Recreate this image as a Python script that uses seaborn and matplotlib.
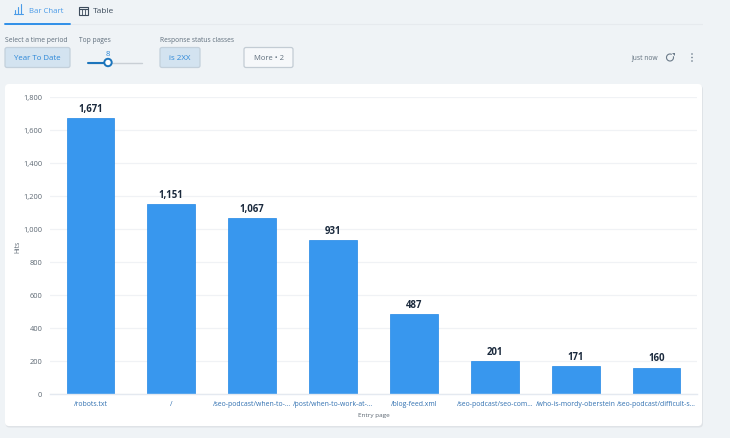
import matplotlib
matplotlib.use("Agg")
import matplotlib.pyplot as plt
from matplotlib.patches import FancyBboxPatch, Rectangle, Circle, Polygon, Arc
from matplotlib.lines import Line2D
from matplotlib.ticker import FuncFormatter, MultipleLocator
import pandas as pd
import seaborn as sns

pages = ["/robots.txt", "/", "/seo-podcast/when-to-...", "/post/when-to-work-at-...",
         "/blog-feed.xml", "/seo-podcast/seo-com...", "/who-is-mordy-oberstein",
         "/seo-podcast/difficult-s..."]
hits = [1671, 1151, 1067, 931, 487, 201, 171, 160]

W, H = 730, 439
sns.set_theme(style="white")
plt.rcParams["font.family"] = ["Open Sans", "DejaVu Sans"]
BG = "#eff3f6"
fig = plt.figure(figsize=(W / 100, H / 100), dpi=100, facecolor=BG)

def X(x): return x / W
def Y(y): return 1 - y / H

def label(x, y, s, size=4.8, color="#5f6e7c", ha="left", weight="normal"):
    fig.text(X(x), Y(y), s, fontsize=size, color=color, ha=ha, va="center", weight=weight)

def box(x0, y0, x1, y1, fc, ec, r=2, lw=0.9, z=1, **kw):
    fig.add_artist(FancyBboxPatch((x0, H - y1), x1 - x0, y1 - y0,
                                  boxstyle=f"round,pad=0,rounding_size={r}",
                                  transform=None, fc=fc, ec=ec, lw=lw, zorder=z, **kw))

def line(xs, ys, color, lw=1.0, z=3):
    fig.add_artist(Line2D([X(v) for v in xs], [Y(v) for v in ys], color=color, lw=lw, zorder=z,
                          solid_capstyle="round"))

# top tabs
line([5, 702], [25, 25], "#e6eaee", 0.8)
line([5, 70], [24.5, 24.5], "#2f8fe8", 1.4, z=4)
label(29, 11.5, "Bar Chart", 5.6, "#4a9be8")
label(93, 11.5, "Table", 6.0, "#3d4c5c")
for x0, h in [(15, 4), (18, 7), (21, 10)]:
    line([x0, x0], [15, 15 - h], "#4a9be8", 0.8)
line([13.5, 23], [15, 15], "#4a9be8", 0.8)
fig.add_artist(Rectangle((79, H - 16), 9, 8, transform=None, fc="none", ec="#3d4c5c", lw=0.8))
line([79, 88], [10, 10], "#3d4c5c", 0.8)
line([82, 82], [10, 16], "#3d4c5c", 0.6)
line([85, 85], [10, 16], "#3d4c5c", 0.6)

# filter row
label(5, 41, "Select a time period", 4.9)
label(79, 41, "Top pages", 4.8)
label(160, 41, "Response status classes", 4.8)
box(5, 48.5, 70, 68.5, "#d3e3f0", "#c3d0db")
label(37.5, 59, "Year To Date", 5.7, "#2b87d8", ha="center")
line([88, 142], [63.5, 63.5], "#c9cfd5", 1.0)
line([88, 108], [63.5, 63.5], "#1c75bc", 1.5, z=4)
fig.add_artist(Circle((108, H - 63.5), 3.7, transform=None, fc="white", ec="#1c75bc", lw=1.4, zorder=5))
label(107.5, 54, "8", 5.6, "#2b87d8", ha="center")
box(160, 48.5, 200, 68.5, "#d3e3f0", "#c3d0db")
label(180, 59, "is 2XX", 5.7, "#2b87d8", ha="center")
box(244, 48.5, 293, 68.5, "#f6f8fa", "#c3ccd4")
label(268.5, 59, "More • 2", 5.5, "#5f6e7c", ha="center")
label(658, 59, "just now", 4.9, "#5f6e7c", ha="right")
fig.add_artist(Arc((670, H - 58.5), 7, 7, theta1=60, theta2=380, transform=None, ec="#6b7a89", lw=0.8, zorder=3))
fig.add_artist(Polygon([(671.5, H - 54), (674.5, H - 54), (674.5, H - 57)], closed=True,
                       transform=None, fc="#6b7a89", ec="none", zorder=3))
for y in (55, 58.5, 62):
    fig.add_artist(Circle((692, H - y), 0.8, transform=None, fc="#6b7a89", ec="none", zorder=3))

# card with faint shadow
box(5.5, 86.5, 703, 428.5, "#dfe3e7", "none", r=4, lw=0, z=1)
box(5, 85, 702, 427, "white", "none", r=4, lw=0, z=1)

ax = fig.add_axes([X(50), Y(394.9), (697 - 50) / W, 297 / H], facecolor="none", zorder=2)
df = pd.DataFrame({"page": pages, "hits": hits})
sns.barplot(data=df, x="page", y="hits", ax=ax, color="#3897ee", saturation=1, width=0.59,
            edgecolor="#2187e6", linewidth=0.5)
ax.set_xlim(-0.5, 7.5)
ax.set_ylim(0, 1800)
ax.yaxis.set_major_locator(MultipleLocator(200))
ax.yaxis.set_major_formatter(FuncFormatter(lambda v, _: f"{int(v):,}"))
ax.grid(axis="y", color="#f0f2f5", lw=0.9)
ax.set_axisbelow(True)
for s in ("top", "right", "left"):
    ax.spines[s].set_visible(False)
ax.spines["bottom"].set_color("#e4e9f0")
ax.spines["bottom"].set_linewidth(1.0)
ax.tick_params(axis="y", length=0, pad=5.5, labelsize=5.4, labelcolor="#5c6772")
ax.tick_params(axis="x", length=0, pad=4.5, labelsize=4.95, labelcolor="#2f6fb0")
ax.set_xlabel("Entry page", fontsize=4.6, color="#5c6772", labelpad=3.5)
ax.set_ylabel("Hits", fontsize=4.9, color="#5c6772", labelpad=1)
for i, v in enumerate(hits):
    ax.annotate(f"{v:,}", (i, v), xytext=(0, 2.9), textcoords="offset points", ha="center", va="bottom",
                fontsize=6.9, weight="bold", color="#1b2a3d")

fig.savefig("out.png", dpi=100, facecolor=BG)
